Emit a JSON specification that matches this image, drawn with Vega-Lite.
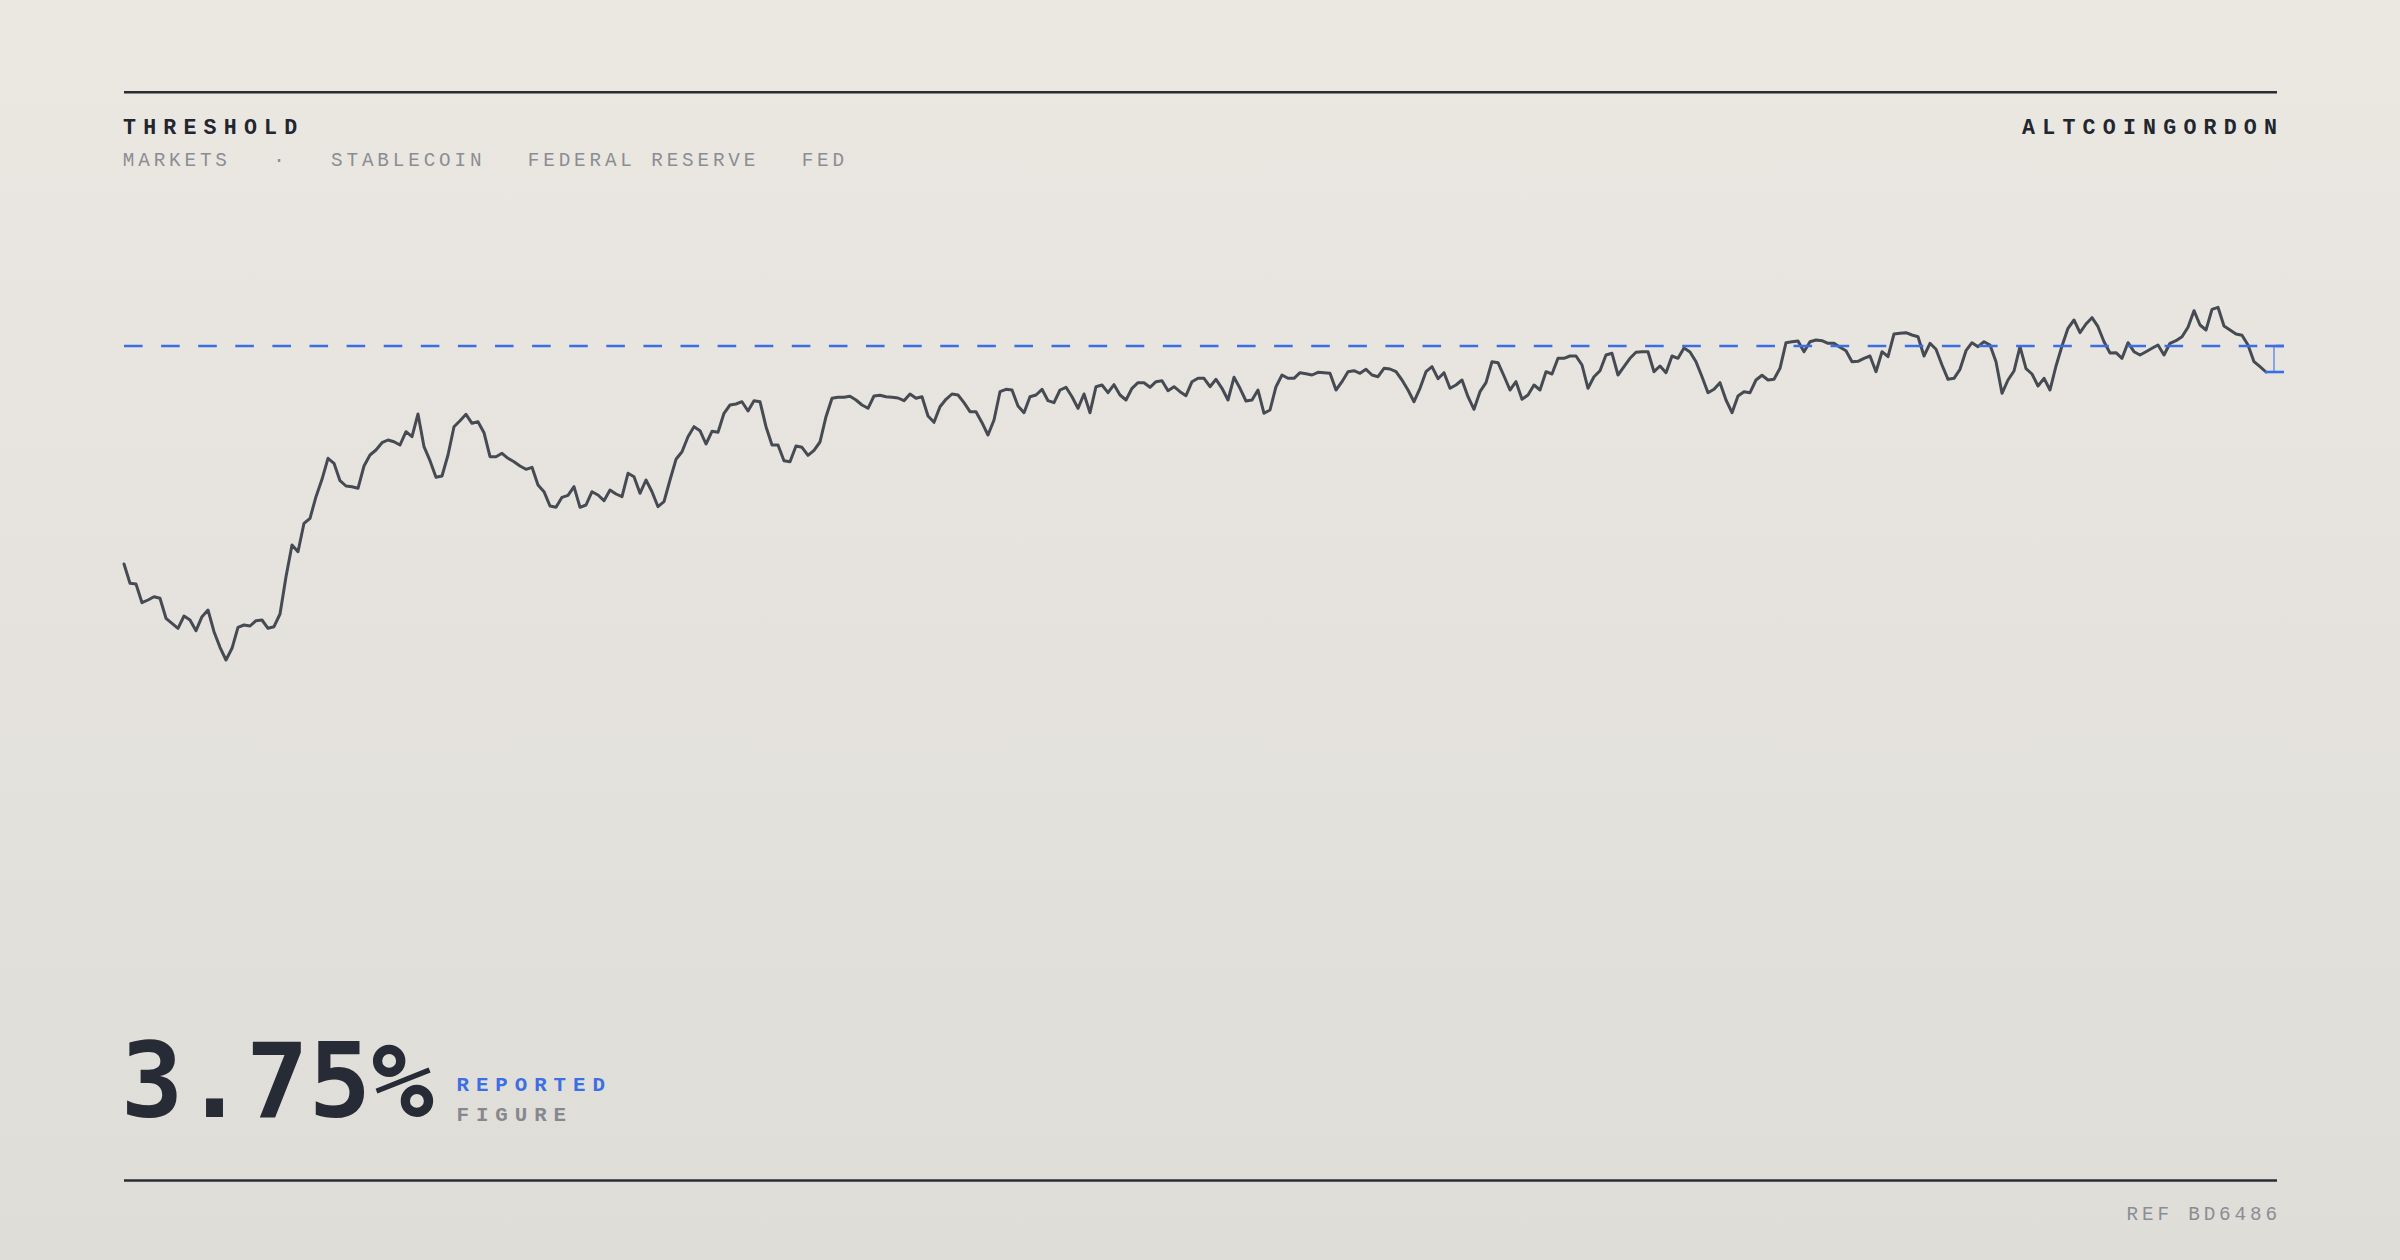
{
  "$schema": "https://vega.github.io/schema/vega-lite/v6.json",
  "width": 2400,
  "height": 1260,
  "autosize": {"type": "fit", "contains": "padding"},
  "padding": 0,
  "background": "#e6e4de",
  "config": {"view": {"stroke": null}},
  "datasets": {
    "series": [
      {"d":0,"v":1.57},{"d":1,"v":1.377},{"d":2,"v":1.37},{"d":3,"v":1.183},{"d":4,"v":1.21},{"d":5,"v":1.243},{"d":6,"v":1.227},{"d":7,"v":1.027},{"d":8,"v":0.977},{"d":9,"v":0.927},
      {"d":10,"v":1.05},{"d":11,"v":1.01},{"d":12,"v":0.903},{"d":13,"v":1.043},{"d":14,"v":1.11},{"d":15,"v":0.893},{"d":16,"v":0.737},{"d":17,"v":0.61},{"d":18,"v":0.727},{"d":19,"v":0.937},
      {"d":20,"v":0.96},{"d":21,"v":0.95},{"d":22,"v":1.003},{"d":23,"v":1.01},{"d":24,"v":0.927},{"d":25,"v":0.943},{"d":26,"v":1.07},{"d":27,"v":1.443},{"d":28,"v":1.76},{"d":29,"v":1.693},
      {"d":30,"v":1.977},{"d":31,"v":2.027},{"d":32,"v":2.243},{"d":33,"v":2.417},{"d":34,"v":2.627},{"d":35,"v":2.577},{"d":36,"v":2.403},{"d":37,"v":2.35},{"d":38,"v":2.343},{"d":39,"v":2.327},
      {"d":40,"v":2.55},{"d":41,"v":2.66},{"d":42,"v":2.71},{"d":43,"v":2.783},{"d":44,"v":2.81},{"d":45,"v":2.793},{"d":46,"v":2.76},{"d":47,"v":2.893},{"d":48,"v":2.843},{"d":49,"v":3.07},
      {"d":50,"v":2.743},{"d":51,"v":2.603},{"d":52,"v":2.437},{"d":53,"v":2.45},{"d":54,"v":2.66},{"d":55,"v":2.943},{"d":56,"v":3.003},{"d":57,"v":3.067},{"d":58,"v":2.977},{"d":59,"v":2.993},
      {"d":60,"v":2.883},{"d":61,"v":2.643},{"d":62,"v":2.643},{"d":63,"v":2.677},{"d":64,"v":2.627},{"d":65,"v":2.593},{"d":66,"v":2.55},{"d":67,"v":2.517},{"d":68,"v":2.537},{"d":69,"v":2.36},
      {"d":70,"v":2.293},{"d":71,"v":2.15},{"d":72,"v":2.137},{"d":73,"v":2.237},{"d":74,"v":2.257},{"d":75,"v":2.343},{"d":76,"v":2.137},{"d":77,"v":2.16},{"d":78,"v":2.293},{"d":79,"v":2.26},
      {"d":80,"v":2.203},{"d":81,"v":2.31},{"d":82,"v":2.27},{"d":83,"v":2.243},{"d":84,"v":2.477},{"d":85,"v":2.443},{"d":86,"v":2.277},{"d":87,"v":2.41},{"d":88,"v":2.293},{"d":89,"v":2.143},
      {"d":90,"v":2.193},{"d":91,"v":2.41},{"d":92,"v":2.617},{"d":93,"v":2.693},{"d":94,"v":2.843},{"d":95,"v":2.943},{"d":96,"v":2.903},{"d":97,"v":2.77},{"d":98,"v":2.897},{"d":99,"v":2.887},
      {"d":100,"v":3.077},{"d":101,"v":3.16},{"d":102,"v":3.17},{"d":103,"v":3.193},{"d":104,"v":3.1},{"d":105,"v":3.203},{"d":106,"v":3.193},{"d":107,"v":2.943},{"d":108,"v":2.76},{"d":109,"v":2.76},
      {"d":110,"v":2.603},{"d":111,"v":2.593},{"d":112,"v":2.75},{"d":113,"v":2.737},{"d":114,"v":2.657},{"d":115,"v":2.707},{"d":116,"v":2.79},{"d":117,"v":3.043},{"d":118,"v":3.227},{"d":119,"v":3.237},
      {"d":120,"v":3.237},{"d":121,"v":3.247},{"d":122,"v":3.21},{"d":123,"v":3.16},{"d":124,"v":3.127},{"d":125,"v":3.25},{"d":126,"v":3.257},{"d":127,"v":3.243},{"d":128,"v":3.237},{"d":129,"v":3.23},
      {"d":130,"v":3.203},{"d":131,"v":3.27},{"d":132,"v":3.227},{"d":133,"v":3.243},{"d":134,"v":3.05},{"d":135,"v":2.987},{"d":136,"v":3.143},{"d":137,"v":3.217},{"d":138,"v":3.27},{"d":139,"v":3.26},
      {"d":140,"v":3.183},{"d":141,"v":3.093},{"d":142,"v":3.093},{"d":143,"v":2.983},{"d":144,"v":2.86},{"d":145,"v":3.01},{"d":146,"v":3.293},{"d":147,"v":3.317},{"d":148,"v":3.31},{"d":149,"v":3.15},
      {"d":150,"v":3.083},{"d":151,"v":3.243},{"d":152,"v":3.26},{"d":153,"v":3.317},{"d":154,"v":3.203},{"d":155,"v":3.183},{"d":156,"v":3.31},{"d":157,"v":3.337},{"d":158,"v":3.243},{"d":159,"v":3.127},
      {"d":160,"v":3.27},{"d":161,"v":3.083},{"d":162,"v":3.343},{"d":163,"v":3.36},{"d":164,"v":3.283},{"d":165,"v":3.363},{"d":166,"v":3.26},{"d":167,"v":3.21},{"d":168,"v":3.327},{"d":169,"v":3.383},
      {"d":170,"v":3.383},{"d":171,"v":3.337},{"d":172,"v":3.393},{"d":173,"v":3.403},{"d":174,"v":3.303},{"d":175,"v":3.343},{"d":176,"v":3.293},{"d":177,"v":3.253},{"d":178,"v":3.393},{"d":179,"v":3.427},
      {"d":180,"v":3.427},{"d":181,"v":3.343},{"d":182,"v":3.417},{"d":183,"v":3.327},{"d":184,"v":3.21},{"d":185,"v":3.437},{"d":186,"v":3.327},{"d":187,"v":3.2},{"d":188,"v":3.21},{"d":189,"v":3.31},
      {"d":190,"v":3.077},{"d":191,"v":3.11},{"d":192,"v":3.343},{"d":193,"v":3.46},{"d":194,"v":3.427},{"d":195,"v":3.427},{"d":196,"v":3.483},{"d":197,"v":3.473},{"d":198,"v":3.46},{"d":199,"v":3.487},
      {"d":200,"v":3.483},{"d":201,"v":3.477},{"d":202,"v":3.31},{"d":203,"v":3.393},{"d":204,"v":3.493},{"d":205,"v":3.503},{"d":206,"v":3.477},{"d":207,"v":3.517},{"d":208,"v":3.46},{"d":209,"v":3.443},
      {"d":210,"v":3.527},{"d":211,"v":3.52},{"d":212,"v":3.493},{"d":213,"v":3.41},{"d":214,"v":3.31},{"d":215,"v":3.193},{"d":216,"v":3.327},{"d":217,"v":3.493},{"d":218,"v":3.543},{"d":219,"v":3.423},
      {"d":220,"v":3.483},{"d":221,"v":3.327},{"d":222,"v":3.36},{"d":223,"v":3.41},{"d":224,"v":3.243},{"d":225,"v":3.117},{"d":226,"v":3.293},{"d":227,"v":3.383},{"d":228,"v":3.593},{"d":229,"v":3.583},
      {"d":230,"v":3.45},{"d":231,"v":3.31},{"d":232,"v":3.393},{"d":233,"v":3.217},{"d":234,"v":3.26},{"d":235,"v":3.36},{"d":236,"v":3.31},{"d":237,"v":3.493},{"d":238,"v":3.47},{"d":239,"v":3.627},
      {"d":240,"v":3.627},{"d":241,"v":3.65},{"d":242,"v":3.65},{"d":243,"v":3.56},{"d":244,"v":3.327},{"d":245,"v":3.443},{"d":246,"v":3.503},{"d":247,"v":3.66},{"d":248,"v":3.677},{"d":249,"v":3.46},
      {"d":250,"v":3.543},{"d":251,"v":3.627},{"d":252,"v":3.687},{"d":253,"v":3.693},{"d":254,"v":3.693},{"d":255,"v":3.493},{"d":256,"v":3.55},{"d":257,"v":3.483},{"d":258,"v":3.65},{"d":259,"v":3.627},
      {"d":260,"v":3.73},{"d":261,"v":3.69},{"d":262,"v":3.593},{"d":263,"v":3.443},{"d":264,"v":3.283},{"d":265,"v":3.317},{"d":266,"v":3.383},{"d":267,"v":3.21},{"d":268,"v":3.083},{"d":269,"v":3.25},
      {"d":270,"v":3.293},{"d":271,"v":3.283},{"d":272,"v":3.41},{"d":273,"v":3.457},{"d":274,"v":3.41},{"d":275,"v":3.417},{"d":276,"v":3.527},{"d":277,"v":3.783},{"d":278,"v":3.793},{"d":279,"v":3.8},
      {"d":280,"v":3.693},{"d":281,"v":3.793},{"d":282,"v":3.81},{"d":283,"v":3.803},{"d":284,"v":3.777},{"d":285,"v":3.777},{"d":286,"v":3.737},{"d":287,"v":3.703},{"d":288,"v":3.593},{"d":289,"v":3.597},
      {"d":290,"v":3.627},{"d":291,"v":3.65},{"d":292,"v":3.493},{"d":293,"v":3.693},{"d":294,"v":3.643},{"d":295,"v":3.87},{"d":296,"v":3.877},{"d":297,"v":3.883},{"d":298,"v":3.86},{"d":299,"v":3.843},
      {"d":300,"v":3.65},{"d":301,"v":3.777},{"d":302,"v":3.717},{"d":303,"v":3.56},{"d":304,"v":3.417},{"d":305,"v":3.427},{"d":306,"v":3.517},{"d":307,"v":3.703},{"d":308,"v":3.783},{"d":309,"v":3.743},
      {"d":310,"v":3.793},{"d":311,"v":3.76},{"d":312,"v":3.593},{"d":313,"v":3.277},{"d":314,"v":3.41},{"d":315,"v":3.5},{"d":316,"v":3.743},{"d":317,"v":3.523},{"d":318,"v":3.47},{"d":319,"v":3.35},
      {"d":320,"v":3.427},{"d":321,"v":3.31},{"d":322,"v":3.55},{"d":323,"v":3.75},{"d":324,"v":3.927},{"d":325,"v":4.01},{"d":326,"v":3.883},{"d":327,"v":3.97},{"d":328,"v":4.033},{"d":329,"v":3.943},
      {"d":330,"v":3.793},{"d":331,"v":3.68},{"d":332,"v":3.683},{"d":333,"v":3.627},{"d":334,"v":3.783},{"d":335,"v":3.693},{"d":336,"v":3.66},{"d":337,"v":3.693},{"d":338,"v":3.727},{"d":339,"v":3.76},
      {"d":340,"v":3.66},{"d":341,"v":3.777},{"d":342,"v":3.803},{"d":343,"v":3.843},{"d":344,"v":3.937},{"d":345,"v":4.103},{"d":346,"v":3.96},{"d":347,"v":3.91},{"d":348,"v":4.117},{"d":349,"v":4.137},
      {"d":350,"v":3.95},{"d":351,"v":3.91},{"d":352,"v":3.87},{"d":353,"v":3.857},{"d":354,"v":3.76},{"d":355,"v":3.593},{"d":356,"v":3.543},{"d":357,"v":3.49}
    ]
  },
  "layer": [
    {
      "data": {"values": [{}]},
      "mark": {"type": "rect", "fill": {"gradient": "linear", "x1": 0, "y1": 0, "x2": 0, "y2": 1, "stops": [{"offset": 0, "color": "#ebe8e2"}, {"offset": 1, "color": "#dfddd8"}]}},
      "encoding": {"x": {"value": 0}, "x2": {"value": "width"}, "y": {"value": 0}, "y2": {"value": "height"}}
    },
    {
      "data": {"name": "series"},
      "mark": {"type": "line", "color": "#464a53", "strokeWidth": 3, "strokeJoin": "round", "strokeCap": "round"},
      "encoding": {
        "x": {"field": "d", "type": "quantitative", "axis": null, "scale": {"domain": [-20.6667, 379.3333], "zero": false, "nice": false}},
        "y": {"field": "v", "type": "quantitative", "axis": null, "scale": {"domain": [-5.39, 7.21], "zero": false, "nice": false}}
      }
    },
    {
      "data": {"values": [{}]},
      "mark": {"type": "rule", "color": "#2a2d35", "strokeWidth": 2.5},
      "encoding": {"x": {"datum": 0, "type": "quantitative"}, "x2": {"datum": 358.83}, "y": {"datum": 6.287, "type": "quantitative"}}
    },
    {
      "data": {"values": [{}]},
      "mark": {"type": "rule", "color": "#2a2d35", "strokeWidth": 2.5},
      "encoding": {"x": {"datum": 0, "type": "quantitative"}, "x2": {"datum": 358.83}, "y": {"datum": -4.595, "type": "quantitative"}}
    },
    {
      "data": {"values": [{}]},
      "mark": {"type": "rule", "color": "#3a6fe4", "strokeWidth": 2.6, "strokeDash": [18.6, 18.5]},
      "encoding": {"x": {"datum": 0, "type": "quantitative"}, "x2": {"datum": 360}, "y": {"datum": 3.75, "type": "quantitative"}}
    },
    {
      "data": {"name": "series"},
      "transform": [{"filter": "datum.d == 357"}],
      "mark": {"type": "rule", "color": "#3a6fe4", "strokeWidth": 2, "opacity": 0.55},
      "encoding": {"x": {"datum": 358.33, "type": "quantitative"}, "y": {"field": "v", "type": "quantitative"}, "y2": {"datum": 3.75}}
    },
    {
      "data": {"name": "series"},
      "transform": [{"filter": "datum.d == 357"}],
      "mark": {"type": "rule", "color": "#3a6fe4", "strokeWidth": 2.6},
      "encoding": {"x": {"datum": 356.83, "type": "quantitative"}, "x2": {"datum": 360}, "y": {"field": "v", "type": "quantitative"}}
    },
    {
      "data": {"values": [{}]},
      "mark": {"type": "rule", "color": "#3a6fe4", "strokeWidth": 2.6},
      "encoding": {"x": {"datum": 356.83, "type": "quantitative"}, "x2": {"datum": 360}, "y": {"datum": 3.75, "type": "quantitative"}}
    },
    {
      "data": {"values": [{}]},
      "mark": {"type": "text", "text": "T\u2004H\u2004R\u2004E\u2004S\u2004H\u2004O\u2004L\u2004D", "font": "Liberation Mono, DejaVu Sans", "fontWeight": "bold", "fontSize": 21.6, "color": "#23262e", "align": "left", "baseline": "alphabetic"},
      "encoding": {"x": {"datum": -0.17, "type": "quantitative"}, "y": {"datum": 5.867, "type": "quantitative"}}
    },
    {
      "data": {"values": [{}]},
      "mark": {"type": "text", "text": "A\u2004L\u2004T\u2004C\u2004O\u2004I\u2004N\u2004G\u2004O\u2004R\u2004D\u2004O\u2004N", "font": "Liberation Mono, DejaVu Sans", "fontWeight": "bold", "fontSize": 21.6, "color": "#23262e", "align": "right", "baseline": "alphabetic"},
      "encoding": {"x": {"datum": 358.83, "type": "quantitative"}, "y": {"datum": 5.867, "type": "quantitative"}}
    },
    {
      "data": {"values": [{}]},
      "mark": {"type": "text", "text": "M\u2009A\u2009R\u2009K\u2009E\u2009T\u2009S\u2009 \u2009 \u2009 \u00b7\u2009 \u2009 \u2009 S\u2009T\u2009A\u2009B\u2009L\u2009E\u2009C\u2009O\u2009I\u2009N\u2009 \u2009 \u2009 F\u2009E\u2009D\u2009E\u2009R\u2009A\u2009L\u2009 \u2009R\u2009E\u2009S\u2009E\u2009R\u2009V\u2009E\u2009 \u2009 \u2009 F\u2009E\u2009D", "font": "Liberation Mono, DejaVu Sans", "fontSize": 19.3, "color": "#8b8d93", "align": "left", "baseline": "alphabetic"},
      "encoding": {"x": {"datum": -0.2, "type": "quantitative"}, "y": {"datum": 5.55, "type": "quantitative"}}
    },
    {
      "data": {"values": [{}]},
      "mark": {"type": "text", "text": "3.75%", "font": "DejaVu Sans Mono, DejaVu Sans", "fontWeight": "bold", "fontSize": 104, "color": "#272b35", "align": "left", "baseline": "alphabetic"},
      "encoding": {"x": {"datum": -0.55, "type": "quantitative"}, "y": {"datum": -3.957, "type": "quantitative"}}
    },
    {
      "data": {"values": [{}]},
      "mark": {"type": "text", "text": "R\u2004E\u2004P\u2004O\u2004R\u2004T\u2004E\u2004D", "font": "Liberation Mono, DejaVu Sans", "fontWeight": "bold", "fontSize": 20.8, "color": "#3b6fe3", "align": "left", "baseline": "alphabetic"},
      "encoding": {"x": {"datum": 55.42, "type": "quantitative"}, "y": {"datum": -3.697, "type": "quantitative"}}
    },
    {
      "data": {"values": [{}]},
      "mark": {"type": "text", "text": "F\u2004I\u2004G\u2004U\u2004R\u2004E", "font": "Liberation Mono, DejaVu Sans", "fontWeight": "bold", "fontSize": 20.8, "color": "#86888e", "align": "left", "baseline": "alphabetic"},
      "encoding": {"x": {"datum": 55.42, "type": "quantitative"}, "y": {"datum": -3.997, "type": "quantitative"}}
    },
    {
      "data": {"values": [{}]},
      "mark": {"type": "text", "text": "R\u2009E\u2009F\u2009 \u2009B\u2009D\u20096\u20094\u20098\u20096", "font": "Liberation Mono, DejaVu Sans", "fontSize": 19.3, "color": "#8b8d93", "align": "right", "baseline": "alphabetic"},
      "encoding": {"x": {"datum": 358.83, "type": "quantitative"}, "y": {"datum": -4.99, "type": "quantitative"}}
    }
  ]
}
